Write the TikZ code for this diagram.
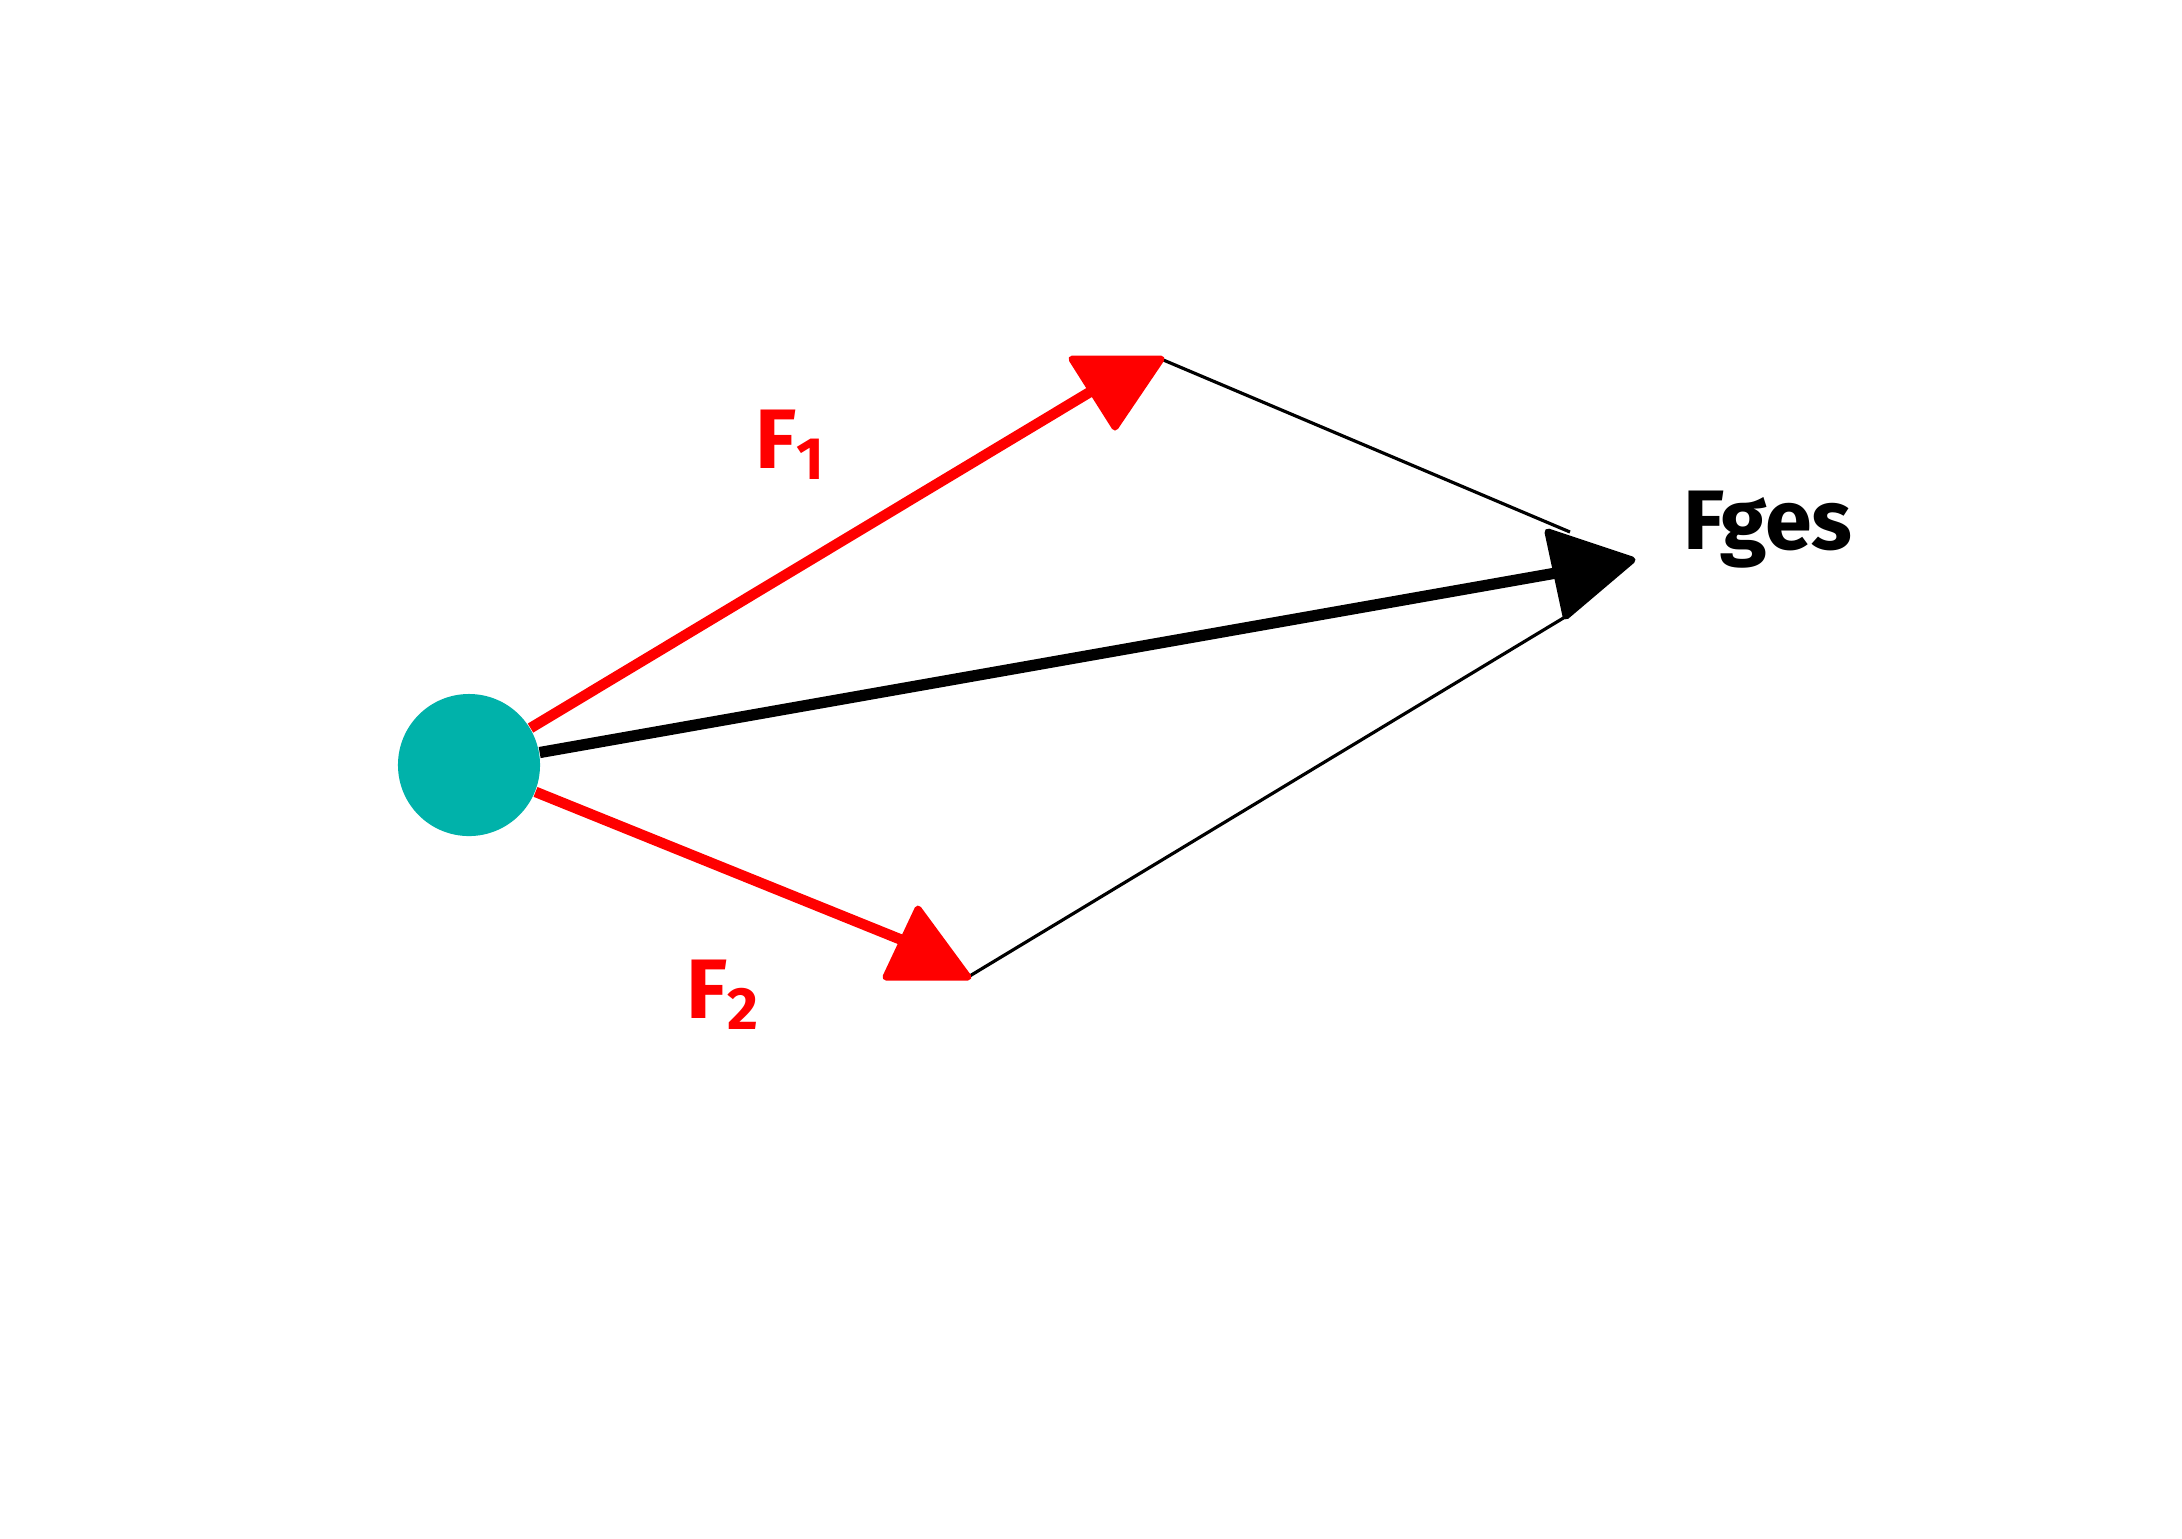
\documentclass[tikz,border=0pt]{standalone}
\usepackage{fontspec}
\setmainfont{Fira Sans}
\definecolor{massteal}{RGB}{0,178,170}
\begin{document}
\begin{tikzpicture}[x=0.01cm,y=-0.01cm,
  forcered/.style={draw=red,line width=3pt},
  forceres/.style={draw=black,line width=3.2pt},
  helper/.style={draw=black,line width=0.9pt},
  tipred/.style={fill=red,draw=red,line width=2pt,line join=round},
  tipblack/.style={fill=black,draw=black,line width=2pt,line join=round},
  lbl/.style={font=\bfseries\fontsize{24}{24}\selectfont,inner sep=0pt}]
\useasboundingbox (0,0) rectangle (2182,1538);
\fill[white] (0,0) rectangle (2182,1538);
% mass
\node[circle,fill=massteal,minimum size=1.42cm,inner sep=0pt] (m) at (469,765) {};
% tip coordinates
\coordinate (t1a) at (1072,359);
\coordinate (t1b) at (1161,359);
\coordinate (t1c) at (1115,427);
\coordinate (t1in) at (1090,392);
\coordinate (t2a) at (918,909);
\coordinate (t2b) at (968,977);
\coordinate (t2c) at (886,977);
\coordinate (t2in) at (902,940);
\coordinate (tra) at (1548,532);
\coordinate (trb) at (1632,560);
\coordinate (trc) at (1566,616);
\coordinate (trin) at (1556,573);
\coordinate (h1) at (1570,532);
\coordinate (h2) at (1565,617);
% helper lines
\draw[helper] (t1b) -- (h1);
\draw[helper] (t2b) -- (h2);
% force lines
\draw[forcered] (m) -- (t1in);
\draw[forcered] (m) -- (t2in);
\draw[forceres] (m) -- (trin);
% arrow heads
\filldraw[tipred] (t1a) -- (t1b) -- (t1c) -- cycle;
\filldraw[tipred] (t2a) -- (t2b) -- (t2c) -- cycle;
\filldraw[tipblack] (tra) -- (trb) -- (trc) -- cycle;
% labels
\node[lbl,text=red] (l1) at (790,445) {F{\fontsize{17}{17}\selectfont\raisebox{-0.35ex}{1}}};
\node[lbl,text=red] (l2) at (722,995) {F{\fontsize{17}{17}\selectfont\raisebox{-0.35ex}{2}}};
\node[lbl,text=black] (lr) at (1768,530) {Fges};
\end{tikzpicture}
\end{document}
